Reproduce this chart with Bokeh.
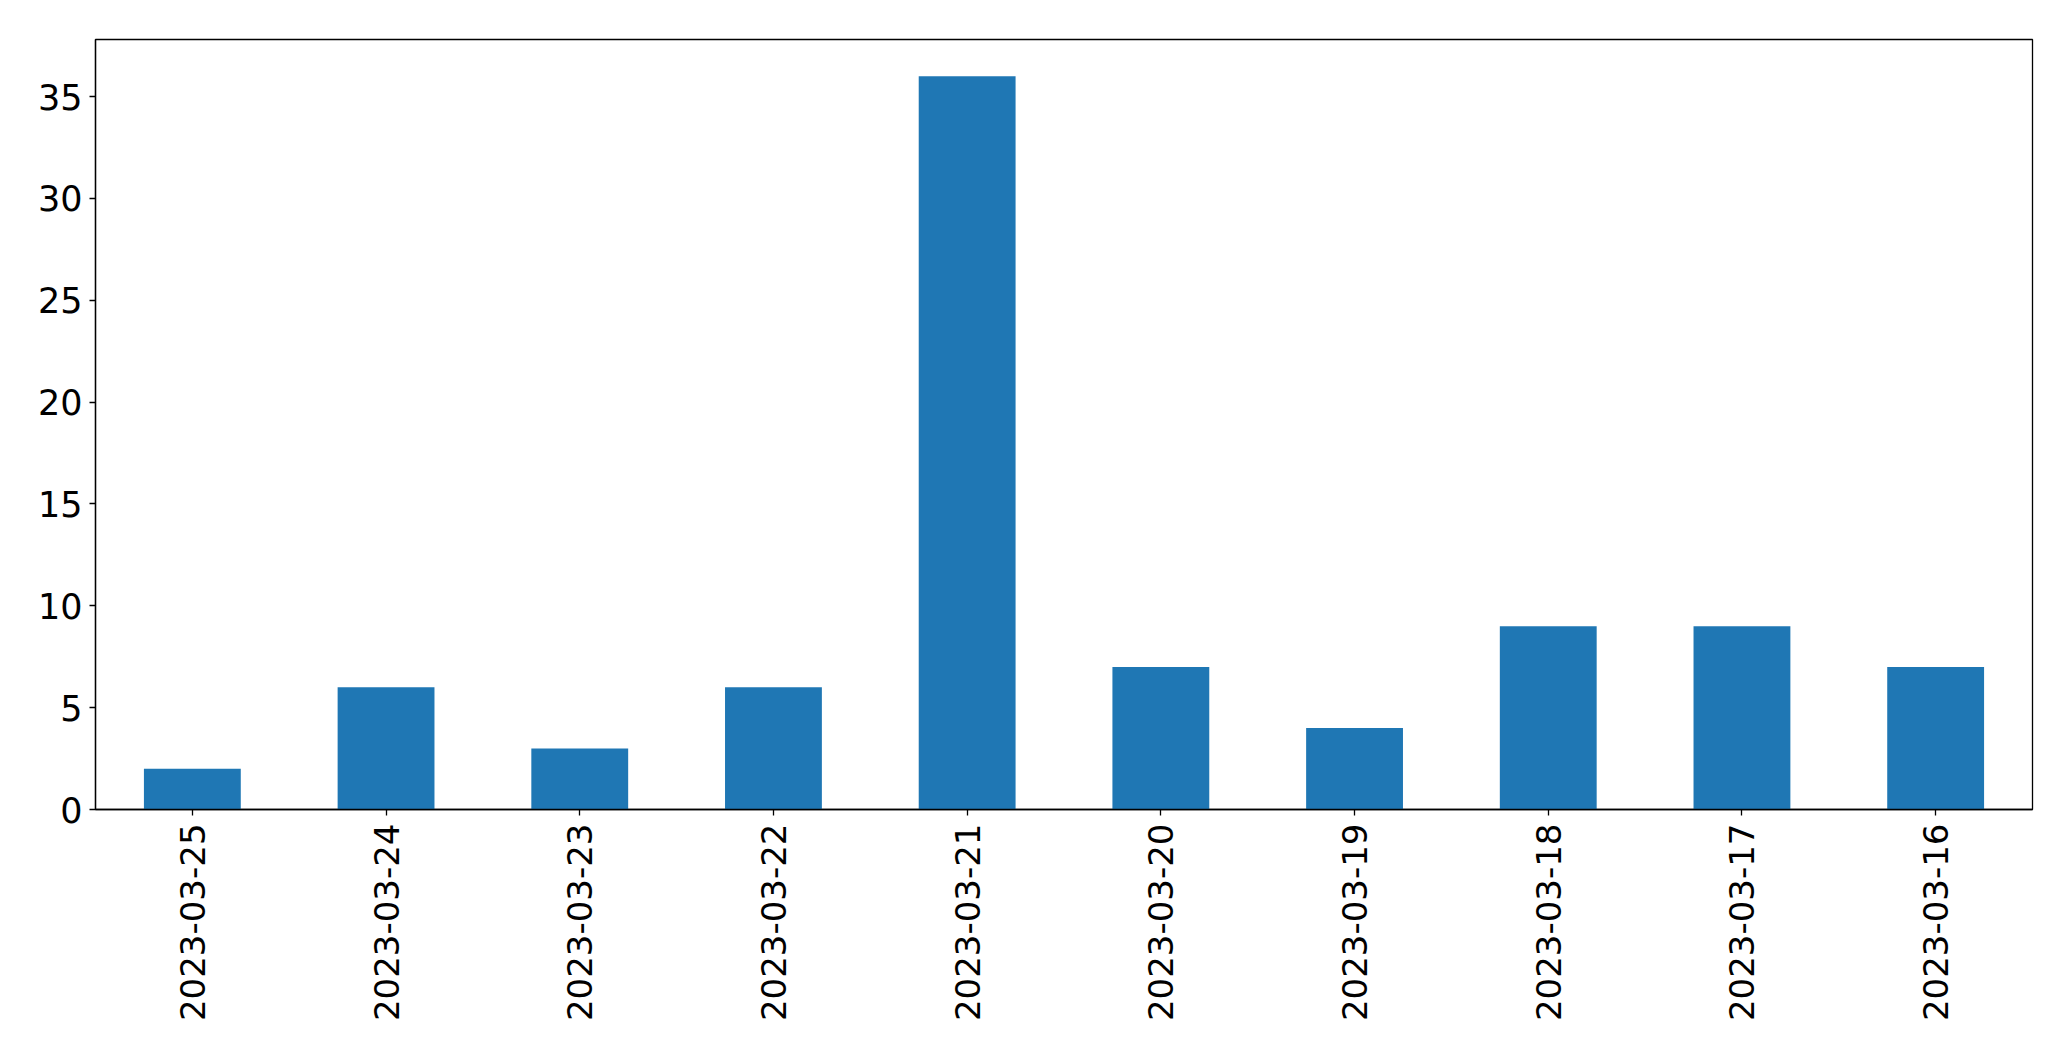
from bokeh.plotting import figure
from bokeh.models import FactorRange, Range1d, FixedTicker
from bokeh.embed import file_html
from bokeh.resources import INLINE
import math

dates = ["2023-03-25", "2023-03-24", "2023-03-23", "2023-03-22", "2023-03-21",
         "2023-03-20", "2023-03-19", "2023-03-18", "2023-03-17", "2023-03-16"]
counts = [2, 6, 3, 6, 36, 7, 4, 9, 9, 7]
y_ticks = [0, 5, 10, 15, 20, 25, 30, 35]

p = figure(x_range=FactorRange(factors=dates, range_padding=0),
           y_range=Range1d(0, 37.8),
           frame_width=1937, frame_height=770,
           min_border_left=95, min_border_top=39, min_border_right=20, min_border_bottom=222,
           output_backend="svg", toolbar_location=None)

p.vbar(x=dates, top=counts, width=0.5, fill_color="#1f77b4", line_color=None)

p.xgrid.visible = False
p.ygrid.visible = False
p.outline_line_color = "black"
p.outline_line_width = 1.3
p.background_fill_color = "white"
p.border_fill_color = "white"

p.yaxis.ticker = FixedTicker(ticks=y_ticks)
for ax in (p.xaxis[0], p.yaxis[0]):
    ax.axis_line_color = "black"
    ax.axis_line_width = 1.3
    ax.major_tick_line_color = "black"
    ax.major_tick_line_width = 1.3
    ax.major_tick_out = 6
    ax.major_tick_in = 0
    ax.minor_tick_line_color = None
    ax.major_label_text_font = "DejaVu Sans"
    ax.major_label_text_color = "black"

p.xaxis.major_label_text_font_size = "34px"
p.yaxis.major_label_text_font_size = "35px"
p.xaxis.major_label_orientation = math.pi / 2
p.xaxis.major_label_standoff = 8
p.yaxis.major_label_standoff = 7

open("out.html", "w").write(file_html(p, INLINE))
